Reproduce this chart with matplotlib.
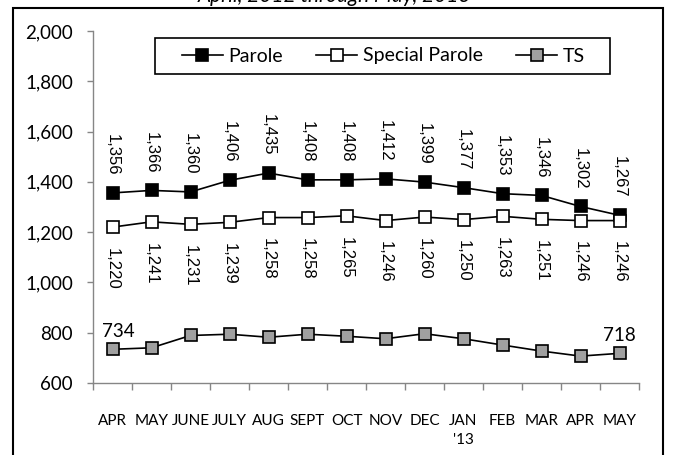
import matplotlib
matplotlib.use("Agg")
import matplotlib.pyplot as plt
from matplotlib.patches import Rectangle
from matplotlib.lines import Line2D

months = ["APR", "MAY", "JUNE", "JULY", "AUG", "SEPT", "OCT", "NOV", "DEC",
          "JAN\n'13", "FEB", "MAR", "APR", "MAY"]
parole = [1356, 1366, 1360, 1406, 1435, 1408, 1408, 1412, 1399, 1377, 1353, 1346, 1302, 1267]
special = [1220, 1241, 1231, 1239, 1258, 1258, 1265, 1246, 1260, 1250, 1263, 1251, 1246, 1246]
ts = [734, 740, 789, 794, 782, 794, 786, 776, 796, 776, 751, 727, 707, 718]
yticks = [600, 800, 1000, 1200, 1400, 1600, 1800, 2000]

tick_font = "Lato"
label_font = "Liberation Sans"

fig = plt.figure(figsize=(6.76, 4.55), dpi=100)
fig.patch.set_facecolor("white")

# outer frame
fig.patches.append(Rectangle((13 / 676, -0.05), (663 - 13) / 676, 1.05 - 8 / 455,
                             transform=fig.transFigure, fill=False,
                             edgecolor="black", linewidth=1.5))
# clipped title (only its lower edge shows, as in the reference)
fig.text(0.495, 1 - 2 / 455, "April, 2012 through May, 2013", ha="center",
         va="baseline", fontsize=15, style="italic", family=tick_font)

ax = fig.add_axes([93 / 676, 1 - 383 / 455, (639 - 93) / 676, (383 - 31) / 455])
x = list(range(len(months)))

ms = 9
ax.plot(x, parole, color="black", lw=1.2, marker="s", ms=ms, mfc="black",
        mec="black", mew=1.2, zorder=3)
ax.plot(x, special, color="black", lw=1.2, marker="s", ms=ms, mfc="white",
        mec="black", mew=1.2, zorder=3)
ax.plot(x, ts, color="black", lw=1.2, marker="s", ms=ms, mfc="#a0a0a0",
        mec="black", mew=1.2, zorder=3)

for xi, v in zip(x, parole):
    ax.annotate(f"{v:,}", (xi, v), xytext=(0, 12.5), textcoords="offset points",
                rotation=-90, ha="center", va="bottom", fontsize=12,
                family=label_font)
for xi, v in zip(x, special):
    ax.annotate(f"{v:,}", (xi, v), xytext=(0, -15), textcoords="offset points",
                rotation=-90, ha="center", va="top", fontsize=12,
                family=label_font)
for xi, dx in ((0, 4), (len(ts) - 1, 0)):
    ax.annotate(f"{ts[xi]:,}", (xi, ts[xi]), xytext=(dx, 7), textcoords="offset points",
                ha="center", va="bottom", fontsize=13.5, family=tick_font)

ax.set_xlim(-0.5, len(months) - 0.5)
ax.set_ylim(600, 2000)
ax.set_yticks(yticks)
ax.set_yticklabels([f"{t:,}" for t in yticks], family=tick_font, fontsize=13.5)
ax.set_xticks(x)
ax.set_xticklabels(months, family=tick_font, fontsize=11, linespacing=1.45)
ax.set_xticks([i - 0.5 for i in range(len(months) + 1)], minor=True)
ax.tick_params(axis="x", which="major", length=0, pad=22)
ax.tick_params(axis="x", which="minor", length=5, color="#868686", width=1)
ax.tick_params(axis="y", length=4, color="#868686", width=1, pad=10.5)
for s in ("top", "right"):
    ax.spines[s].set_visible(False)
for s in ("left", "bottom"):
    ax.spines[s].set_color("#868686")
    ax.spines[s].set_linewidth(1)

# legend frame drawn separately so padding can differ horizontally/vertically
fig.patches.append(Rectangle((155 / 676, 1 - 74 / 455), (610 - 155) / 676, 36 / 455,
                             transform=fig.transFigure, fill=True, facecolor="white",
                             edgecolor="black", linewidth=1.2, zorder=4))
handles = [Line2D([], [], color="black", lw=1.2, marker="s", ms=8, mfc=c,
                  mec="black", mew=1.2) for c in ("black", "white", "#a0a0a0")]
leg = fig.legend(handles, ["Parole", "Special Parole", "TS"], loc="center",
                 bbox_to_anchor=((155 + 610) / 2 / 676 + 1 / 676, 1 - 56 / 455), ncol=3,
                 frameon=False, prop={"family": tick_font, "size": 14},
                 handlelength=2.1, columnspacing=1.7, handletextpad=0.3,
                 borderpad=0.2)
leg.set_zorder(5)

fig.savefig("out.png", dpi=100)
